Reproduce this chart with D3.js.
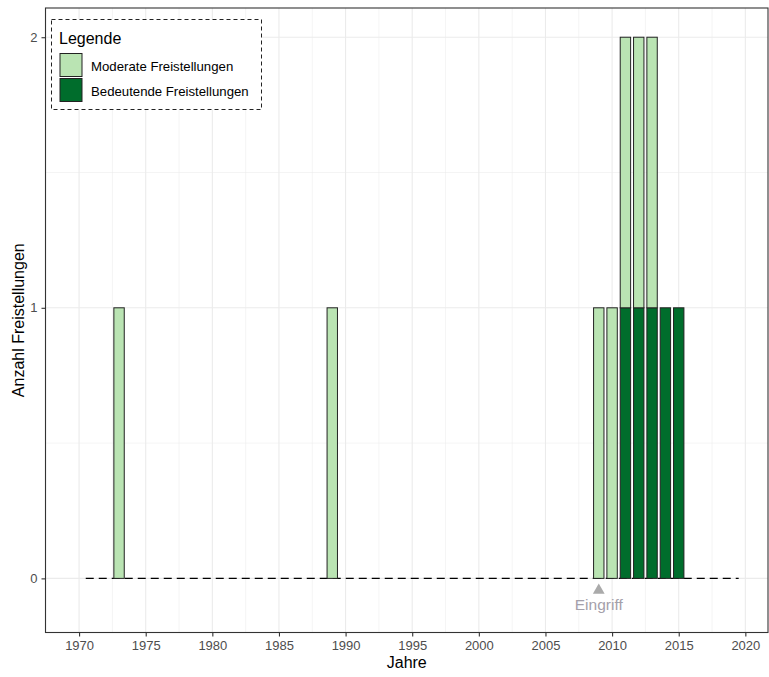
<!DOCTYPE html>
<html><head><meta charset="utf-8">
<script src="https://cdn.jsdelivr.net/npm/d3@7"></script>
<style>body{margin:0;background:#fff}svg{display:block;font-family:"Liberation Sans",Arial,sans-serif}</style>
</head><body><svg id="c" width="769" height="677"></svg>
<script>
const years = [1973, 1989, 2009, 2010, 2011, 2012, 2013, 2014, 2015];
const moderate = [1, 1, 1, 1, 1, 1, 1, 0, 0];
const bedeutende = [0, 0, 0, 0, 1, 1, 1, 1, 1];
const seriesNames = ["Moderate Freistellungen", "Bedeutende Freistellungen"];
const xTicks = [1970, 1975, 1980, 1985, 1990, 1995, 2000, 2005, 2010, 2015, 2020];
const yTicks = [0, 1, 2];
const eingriffYear = 2009;
const baselineRange = [1970.5, 2019.5];

const svg = d3.select("#c");
const L = 45.5, R = 768, T = 8, B = 632.5;
const x = d3.scaleLinear().domain([1967.48, 2021.7]).range([L, R]);
const y = d3.scaleLinear().domain([-0.2, 2.108]).range([B, T]);
const colors = ["#bae4b3", "#006d2c"];

// grid
const minorX = d3.range(1967.5, 2021, 5);
svg.append("g").selectAll("line").data(minorX).join("line")
  .attr("x1", d => x(d)).attr("x2", d => x(d)).attr("y1", T).attr("y2", B)
  .attr("stroke", "#ebebeb").attr("stroke-width", 0.55);
svg.append("g").selectAll("line").data([0.5, 1.5]).join("line")
  .attr("y1", d => y(d)).attr("y2", d => y(d)).attr("x1", L).attr("x2", R)
  .attr("stroke", "#ebebeb").attr("stroke-width", 0.55);
svg.append("g").selectAll("line").data(xTicks).join("line")
  .attr("x1", d => x(d)).attr("x2", d => x(d)).attr("y1", T).attr("y2", B)
  .attr("stroke", "#ebebeb").attr("stroke-width", 1.1);
svg.append("g").selectAll("line").data(yTicks).join("line")
  .attr("y1", d => y(d)).attr("y2", d => y(d)).attr("x1", L).attr("x2", R)
  .attr("stroke", "#ebebeb").attr("stroke-width", 1.1);

// baseline dashed
svg.append("line")
  .attr("x1", x(baselineRange[0])).attr("x2", x(baselineRange[1]))
  .attr("y1", y(0)).attr("y2", y(0))
  .attr("stroke", "#000").attr("stroke-width", 1.1).attr("stroke-dasharray", "8,5");

// bars (stacked: bedeutende bottom, moderate top)
const rows = years.map((yr, i) => ({year: yr, Bedeutende: bedeutende[i], Moderate: moderate[i]}));
const stack = d3.stack().keys(["Bedeutende", "Moderate"])(rows);
const bw = 0.78;
stack.forEach((layer, li) => {
  svg.append("g").selectAll("rect").data(layer.filter(d => d[1] > d[0])).join("rect")
    .attr("x", d => x(d.data.year - bw / 2))
    .attr("width", x(bw) - x(0))
    .attr("y", d => y(d[1]))
    .attr("height", d => y(d[0]) - y(d[1]))
    .attr("fill", li === 0 ? colors[1] : colors[0])
    .attr("stroke", "#222").attr("stroke-width", 1);
});

// Eingriff annotation
svg.append("path")
  .attr("d", d3.symbol().type(d3.symbolTriangle).size(60)())
  .attr("transform", `translate(${x(eingriffYear)},${y(0) + 12})`)
  .attr("fill", "#aaaaaa");
svg.append("text").attr("x", x(eingriffYear)).attr("y", y(0) + 32)
  .attr("text-anchor", "middle").attr("font-size", 15.5).attr("fill", "#a4a0aa").text("Eingriff");

// panel border
svg.append("rect").attr("x", L).attr("y", T).attr("width", R - L).attr("height", B - T)
  .attr("fill", "none").attr("stroke", "#333").attr("stroke-width", 1.1);

// axes
const xa = svg.append("g").attr("transform", `translate(0,${B})`)
  .call(d3.axisBottom(x).tickValues(xTicks).tickFormat(d3.format("d")).tickSize(4).tickPadding(4));
const ya = svg.append("g").attr("transform", `translate(${L},0)`)
  .call(d3.axisLeft(y).tickValues(yTicks).tickFormat(d3.format("d")).tickSize(4).tickPadding(4));
[xa, ya].forEach(a => {
  a.select(".domain").remove();
  a.selectAll("line").attr("stroke", "#333").attr("stroke-width", 1.1);
  a.selectAll("text").attr("fill", "#4d4d4d").attr("font-size", 13).attr("font-family", "Liberation Sans, Arial, sans-serif");
});

// axis titles
svg.append("text").attr("x", (L + R) / 2).attr("y", 668).attr("text-anchor", "middle")
  .attr("font-size", 16).attr("fill", "#000").text("Jahre");
svg.append("text").attr("transform", `translate(24,${(T + B) / 2}) rotate(-90)`)
  .attr("text-anchor", "middle").attr("font-size", 16).attr("fill", "#000").text("Anzahl Freistellungen");

// legend
const lg = svg.append("g");
lg.append("rect").attr("x", 51.5).attr("y", 19.5).attr("width", 210).attr("height", 90)
  .attr("fill", "#fff").attr("stroke", "#222").attr("stroke-width", 1).attr("stroke-dasharray", "4,3");
lg.append("text").attr("x", 59).attr("y", 44).attr("font-size", 16).attr("fill", "#000").text("Legende");
seriesNames.forEach((n, i) => {
  lg.append("rect").attr("x", 60).attr("y", 53.5 + i * 25).attr("width", 22).attr("height", 23)
    .attr("fill", colors[i]).attr("stroke", "#222").attr("stroke-width", 1);
  lg.append("text").attr("x", 91).attr("y", 70.5 + i * 25).attr("font-size", 13.2).attr("fill", "#000").text(n);
});
</script></body></html>
